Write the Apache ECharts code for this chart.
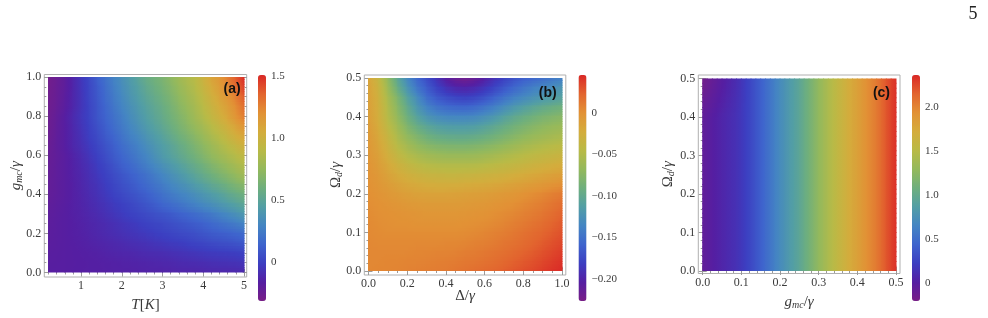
<!DOCTYPE html>
<html>
<head>
<meta charset="utf-8">
<title>heatmaps</title>
<script src="https://cdn.jsdelivr.net/npm/echarts@6.0.0/dist/echarts.min.js"></script>
<style>
  html, body { margin: 0; padding: 0; background: #fff; }
  #chart { width: 988px; height: 318px; }
</style>
</head>
<body>
<div id="chart"></div>
<script>
// ---------- data ----------

// panel (a): T[K] across, g_mc/gamma up
var aT = [0.2,0.4,0.6,0.8,1.0,1.2,1.4,1.6,1.8,2.0,2.2,2.4,2.6,2.8,3.0,3.2,3.4,3.6,3.8,4.0,4.2,4.4,4.6,4.8,5.0];
var aG = [0,0.05,0.1,0.15,0.2,0.25,0.3,0.35,0.4,0.45,0.5,0.55,0.6,0.65,0.7,0.75,0.8,0.85,0.9,0.95,1];
// rows from g = 1.0 (top) down to g = 0
var aRows = [
  [-0.29,-0.25,-0.2,-0.13,-0.05,0.03,0.12,0.2,0.28,0.35,0.42,0.49,0.56,0.61,0.65,0.72,0.79,0.85,0.9,1.0,1.1,1.17,1.27,1.38,1.5],
  [-0.285,-0.245,-0.2,-0.13,-0.055,0.02,0.1,0.18,0.26,0.33,0.4,0.46,0.53,0.58,0.63,0.69,0.76,0.82,0.88,0.97,1.06,1.14,1.23,1.33,1.46],
  [-0.28,-0.24,-0.19,-0.125,-0.06,0.02,0.09,0.17,0.24,0.31,0.38,0.44,0.5,0.55,0.6,0.66,0.73,0.79,0.85,0.93,1.02,1.1,1.18,1.27,1.38],
  [-0.275,-0.235,-0.185,-0.125,-0.06,0.01,0.08,0.15,0.22,0.29,0.35,0.41,0.47,0.52,0.57,0.63,0.7,0.76,0.82,0.9,0.98,1.06,1.13,1.22,1.32],
  [-0.27,-0.22,-0.17,-0.11,-0.05,0.01,0.08,0.14,0.2,0.26,0.33,0.39,0.45,0.5,0.55,0.61,0.67,0.73,0.8,0.87,0.95,1.02,1.1,1.19,1.28],
  [-0.265,-0.215,-0.17,-0.115,-0.06,0.0,0.06,0.12,0.18,0.24,0.3,0.36,0.42,0.47,0.52,0.58,0.64,0.7,0.76,0.82,0.89,0.96,1.03,1.11,1.19],
  [-0.26,-0.21,-0.17,-0.12,-0.07,-0.01,0.04,0.1,0.15,0.21,0.27,0.32,0.38,0.43,0.48,0.54,0.6,0.65,0.71,0.77,0.84,0.9,0.97,1.04,1.1],
  [-0.25,-0.205,-0.17,-0.12,-0.08,-0.03,0.02,0.07,0.12,0.18,0.23,0.28,0.34,0.39,0.44,0.49,0.55,0.6,0.66,0.72,0.78,0.84,0.9,0.96,1.02],
  [-0.24,-0.21,-0.18,-0.14,-0.1,-0.05,0.0,0.05,0.1,0.15,0.2,0.25,0.3,0.36,0.42,0.47,0.52,0.57,0.62,0.68,0.74,0.79,0.84,0.89,0.94],
  [-0.235,-0.205,-0.18,-0.145,-0.11,-0.07,-0.02,0.02,0.07,0.12,0.16,0.21,0.26,0.31,0.36,0.41,0.46,0.51,0.56,0.61,0.67,0.72,0.77,0.82,0.87],
  [-0.23,-0.205,-0.18,-0.15,-0.12,-0.08,-0.04,0.0,0.04,0.08,0.12,0.16,0.2,0.25,0.3,0.35,0.4,0.45,0.5,0.55,0.6,0.65,0.7,0.75,0.8],
  [-0.225,-0.2,-0.18,-0.155,-0.125,-0.09,-0.06,-0.02,0.02,0.055,0.09,0.13,0.17,0.21,0.25,0.3,0.34,0.38,0.43,0.47,0.52,0.56,0.61,0.66,0.7],
  [-0.22,-0.2,-0.18,-0.155,-0.13,-0.1,-0.07,-0.035,0.0,0.03,0.06,0.09,0.12,0.16,0.2,0.24,0.28,0.31,0.35,0.39,0.43,0.47,0.52,0.56,0.6],
  [-0.21,-0.19,-0.175,-0.155,-0.135,-0.11,-0.085,-0.06,-0.03,-0.005,0.02,0.05,0.08,0.11,0.15,0.18,0.21,0.25,0.28,0.32,0.35,0.39,0.43,0.47,0.51],
  [-0.2,-0.185,-0.17,-0.155,-0.14,-0.12,-0.1,-0.075,-0.05,-0.025,0.0,0.02,0.04,0.06,0.08,0.1,0.13,0.155,0.18,0.21,0.24,0.28,0.32,0.36,0.41],
  [-0.195,-0.18,-0.17,-0.16,-0.145,-0.13,-0.115,-0.1,-0.08,-0.06,-0.04,-0.02,0.0,0.015,0.03,0.05,0.07,0.09,0.11,0.13,0.16,0.19,0.22,0.25,0.29],
  [-0.19,-0.18,-0.17,-0.16,-0.15,-0.135,-0.12,-0.105,-0.09,-0.075,-0.06,-0.045,-0.03,-0.015,0.0,0.015,0.03,0.045,0.06,0.08,0.1,0.115,0.13,0.15,0.17],
  [-0.185,-0.178,-0.17,-0.163,-0.155,-0.145,-0.135,-0.125,-0.115,-0.105,-0.09,-0.08,-0.07,-0.055,-0.045,-0.03,-0.02,-0.005,0.01,0.02,0.035,0.05,0.06,0.075,0.09],
  [-0.18,-0.175,-0.17,-0.165,-0.16,-0.155,-0.15,-0.14,-0.13,-0.125,-0.12,-0.11,-0.1,-0.095,-0.09,-0.08,-0.07,-0.06,-0.05,-0.04,-0.03,-0.025,-0.02,-0.01,0.0],
  [-0.175,-0.172,-0.17,-0.167,-0.163,-0.16,-0.157,-0.153,-0.15,-0.145,-0.14,-0.135,-0.13,-0.125,-0.12,-0.115,-0.105,-0.1,-0.095,-0.09,-0.08,-0.075,-0.07,-0.065,-0.055],
  [-0.17,-0.17,-0.17,-0.165,-0.16,-0.16,-0.16,-0.155,-0.15,-0.15,-0.15,-0.145,-0.14,-0.14,-0.14,-0.135,-0.13,-0.13,-0.13,-0.125,-0.12,-0.12,-0.12,-0.115,-0.11]
];
var aXTicks = [1, 2, 3, 4, 5];
var aYTicks = [0, 0.2, 0.4, 0.6, 0.8, 1.0];
var aBarTicks = [0, 0.5, 1.0, 1.5];
var aBarLabels = ['0', '0.5', '1.0', '1.5'];

// panel (b): Delta/gamma across, Omega_d/gamma up
var bD = [0,0.05,0.1,0.15,0.2,0.25,0.3,0.35,0.4,0.45,0.5,0.55,0.6,0.65,0.7,0.75,0.8,0.85,0.9,0.95,1];
var bW = [0,0.025,0.05,0.075,0.1,0.125,0.15,0.175,0.2,0.225,0.25,0.275,0.3,0.325,0.35,0.375,0.4,0.425,0.45,0.475,0.5];
// rows from Omega = 0.5 (top) down to 0
var bRows = [
  [-0.015,-0.035,-0.068,-0.103,-0.132,-0.155,-0.172,-0.188,-0.205,-0.217,-0.222,-0.215,-0.203,-0.19,-0.18,-0.17,-0.162,-0.157,-0.152,-0.146,-0.14],
  [-0.013,-0.03,-0.062,-0.094,-0.122,-0.146,-0.163,-0.178,-0.19,-0.198,-0.2,-0.196,-0.188,-0.178,-0.167,-0.157,-0.148,-0.14,-0.134,-0.128,-0.122],
  [-0.012,-0.027,-0.055,-0.08,-0.108,-0.13,-0.152,-0.165,-0.173,-0.178,-0.18,-0.177,-0.17,-0.16,-0.15,-0.14,-0.133,-0.126,-0.12,-0.115,-0.11],
  [-0.011,-0.025,-0.05,-0.074,-0.098,-0.12,-0.137,-0.148,-0.154,-0.157,-0.158,-0.155,-0.148,-0.14,-0.13,-0.12,-0.112,-0.105,-0.099,-0.094,-0.09],
  [-0.01,-0.024,-0.047,-0.068,-0.09,-0.108,-0.122,-0.13,-0.134,-0.135,-0.135,-0.133,-0.127,-0.12,-0.11,-0.102,-0.095,-0.089,-0.083,-0.079,-0.075],
  [-0.008,-0.021,-0.041,-0.06,-0.079,-0.094,-0.104,-0.111,-0.114,-0.115,-0.115,-0.113,-0.108,-0.102,-0.095,-0.088,-0.082,-0.076,-0.071,-0.067,-0.064],
  [-0.006,-0.018,-0.035,-0.053,-0.069,-0.08,-0.09,-0.096,-0.099,-0.1,-0.1,-0.098,-0.094,-0.089,-0.083,-0.077,-0.071,-0.066,-0.062,-0.058,-0.055],
  [-0.005,-0.015,-0.03,-0.046,-0.058,-0.068,-0.075,-0.079,-0.081,-0.082,-0.082,-0.08,-0.077,-0.073,-0.068,-0.063,-0.058,-0.054,-0.05,-0.047,-0.044],
  [-0.004,-0.012,-0.025,-0.038,-0.048,-0.055,-0.06,-0.063,-0.065,-0.065,-0.065,-0.064,-0.061,-0.058,-0.054,-0.05,-0.046,-0.042,-0.039,-0.036,-0.033],
  [-0.002,-0.009,-0.019,-0.029,-0.037,-0.043,-0.047,-0.049,-0.05,-0.05,-0.05,-0.049,-0.047,-0.044,-0.041,-0.038,-0.035,-0.031,-0.028,-0.025,-0.022],
  [-0.001,-0.006,-0.014,-0.021,-0.027,-0.031,-0.034,-0.035,-0.036,-0.036,-0.035,-0.034,-0.032,-0.03,-0.028,-0.025,-0.022,-0.019,-0.016,-0.013,-0.01],
  [0.0,-0.004,-0.009,-0.014,-0.018,-0.021,-0.023,-0.024,-0.024,-0.024,-0.022,-0.021,-0.02,-0.018,-0.016,-0.013,-0.011,-0.008,-0.005,-0.002,0.001],
  [0.001,-0.002,-0.005,-0.008,-0.011,-0.013,-0.014,-0.014,-0.014,-0.013,-0.012,-0.011,-0.01,-0.008,-0.006,-0.004,-0.001,0.002,0.005,0.009,0.012],
  [0.002,0.0,-0.002,-0.004,-0.006,-0.007,-0.008,-0.008,-0.008,-0.008,-0.007,-0.006,-0.005,-0.003,-0.001,0.001,0.004,0.007,0.01,0.014,0.018],
  [0.003,0.001,0.0,-0.001,-0.002,-0.003,-0.004,-0.004,-0.004,-0.004,-0.003,-0.002,-0.001,0.001,0.003,0.005,0.008,0.011,0.014,0.018,0.023],
  [0.004,0.002,0.001,0.0,0.0,-0.001,-0.001,-0.001,-0.001,-0.001,0.0,0.001,0.002,0.004,0.006,0.009,0.012,0.015,0.018,0.022,0.027],
  [0.004,0.003,0.002,0.002,0.002,0.002,0.002,0.002,0.002,0.002,0.003,0.004,0.006,0.008,0.01,0.013,0.016,0.019,0.022,0.026,0.03],
  [0.005,0.004,0.004,0.004,0.004,0.004,0.004,0.004,0.005,0.005,0.006,0.008,0.009,0.011,0.014,0.016,0.019,0.022,0.026,0.03,0.034],
  [0.005,0.005,0.005,0.005,0.005,0.006,0.006,0.007,0.007,0.008,0.01,0.011,0.013,0.015,0.017,0.02,0.023,0.026,0.03,0.034,0.038],
  [0.005,0.005,0.006,0.006,0.007,0.007,0.008,0.009,0.01,0.011,0.013,0.014,0.016,0.018,0.021,0.024,0.027,0.03,0.034,0.038,0.042],
  [0.005,0.006,0.006,0.007,0.008,0.009,0.01,0.011,0.012,0.014,0.016,0.018,0.02,0.022,0.025,0.028,0.031,0.034,0.038,0.042,0.045]
];
var bXTicks = [0, 0.2, 0.4, 0.6, 0.8, 1.0];
var bYTicks = [0, 0.1, 0.2, 0.3, 0.4, 0.5];
var bBarTicks = [0, -0.05, -0.10, -0.15, -0.20];
var bBarLabels = ['0', '\u22120.05', '\u22120.10', '\u22120.15', '\u22120.20'];

// panel (c): g_mc/gamma across, Omega_d/gamma up -- colour changes mostly across
var cG = [0,0.0125,0.025,0.0375,0.05,0.0625,0.075,0.0875,0.1,0.1125,0.125,0.1375,0.15,0.1625,0.175,0.1875,0.2,0.2125,0.225,0.2375,
          0.25,0.2625,0.275,0.2875,0.3,0.3125,0.325,0.3375,0.35,0.3625,0.375,0.3875,0.4,0.4125,0.425,0.4375,0.45,0.4625,0.475,0.4875,0.5];
var cW = [0,0.05,0.1,0.15,0.2,0.25,0.3,0.35,0.4,0.45,0.5];
var cRowTop = [-0.17,-0.13,-0.09,-0.05,-0.01,0.03,0.07,0.11,0.16,0.22,0.28,0.345,0.41,0.48,0.55,0.625,0.7,0.765,0.83,0.89,
               0.95,1.03,1.11,1.195,1.28,1.355,1.43,1.5,1.57,1.635,1.7,1.76,1.82,1.88,1.94,1.995,2.05,2.125,2.2,2.27,2.34];
var cRowNear = [-0.11,-0.08,-0.045,-0.01,0.025,0.06,0.09,0.125,0.17,0.225,0.28,0.345,0.41,0.48,0.55,0.625,0.7,0.765,0.83,0.89,
                0.95,1.03,1.11,1.195,1.28,1.355,1.43,1.5,1.57,1.635,1.7,1.76,1.82,1.88,1.94,1.995,2.05,2.125,2.2,2.27,2.34];
var cRow = [-0.06,-0.03,0.0,0.03,0.06,0.085,0.11,0.14,0.18,0.23,0.28,0.345,0.41,0.48,0.55,0.625,0.7,0.765,0.83,0.89,
            0.95,1.03,1.11,1.195,1.28,1.355,1.43,1.5,1.57,1.635,1.7,1.76,1.82,1.88,1.94,1.995,2.05,2.125,2.2,2.27,2.34];
// rows from Omega = 0.5 (top) down to 0
var cRows = [cRowTop, cRowNear, cRow, cRow, cRow, cRow, cRow, cRow, cRow, cRow, cRow];
var cXTicks = [0, 0.1, 0.2, 0.3, 0.4, 0.5];
var cYTicks = [0, 0.1, 0.2, 0.3, 0.4, 0.5];
var cBarTicks = [0, 0.5, 1.0, 1.5, 2.0];
var cBarLabels = ['0', '0.5', '1.0', '1.5', '2.0'];

// ---------- styling ----------
var serif = '"Liberation Serif", "DejaVu Serif", serif';
var ink = '#3a3a3a';
var rainbow = ['#781e87','#551ea2','#3c3ec1','#3e64cd','#4485c3','#529ea5','#6eaf7d',
               '#94b95c','#b9ba46','#d4ac3c','#e29135','#e2642e','#da2826'];

function steps(a, b, d) {
  var out = [];
  for (var v = a; v <= b + 1e-9; v += d) out.push(+v.toFixed(4));
  return out;
}
function fix1(v) { return v.toFixed(1); }
function cellsFromRows(rows) {
  var out = [], n = rows.length;
  rows.forEach(function (row, r) {
    row.forEach(function (v, i) { out.push([i, n - 1 - r, v]); });
  });
  return out;
}
function pick(ticks, labels) {
  return function (v) {
    for (var i = 0; i < ticks.length; i++) if (Math.abs(ticks[i] - v) < 1e-9) return labels[i];
    return '';
  };
}

// Each sample is a corner of a patch; the patch is shaded like a density plot,
// colours coming from the same rainbow the colour bar uses.
function shadedPatches(rows, cr) {
  var vals = rows.slice().reverse();   // vals[j][i], j counted from the bottom
  function colorOf(v) {
    var t = (v - cr[0]) / (cr[1] - cr[0]);
    return echarts.color.lerp(Math.max(0, Math.min(1, t)), rainbow);
  }
  return function (params, api) {
    var i = api.value(0), j = api.value(1);
    if (i >= vals[0].length - 1 || j >= vals.length - 1) return null;
    var a = api.coord([i, j]), b = api.coord([i + 1, j + 1]);
    var v00 = vals[j][i], v10 = vals[j][i + 1], v01 = vals[j + 1][i], v11 = vals[j + 1][i + 1];
    var kids = [], n = 4;
    for (var s = 0; s < n; s++) {
      var t = (s + 0.5) / n;
      var vl = v00 + (v01 - v00) * t, vr = v10 + (v11 - v10) * t;
      var stops = [];
      for (var f = 0; f <= 4; f++) stops.push({ offset: f / 4, color: colorOf(vl + (vr - vl) * f / 4) });
      var y0 = a[1] + (b[1] - a[1]) * s / n, y1 = a[1] + (b[1] - a[1]) * (s + 1) / n;
      kids.push({
        type: 'rect',
        shape: { x: a[0] - 0.5, y: Math.min(y0, y1) - 0.5, width: b[0] - a[0] + 1, height: Math.abs(y1 - y0) + 1 },
        style: { fill: new echarts.graphic.LinearGradient(0, 0, 1, 0, stops) }
      });
    }
    return { type: 'group', children: kids };
  };
}

var nameStyle = {
  fontFamily: serif, fontSize: 15, color: ink,
  rich: {
    i: { fontFamily: serif, fontStyle: 'italic', fontSize: 15, color: ink },
    n: { fontFamily: serif, fontSize: 15, color: ink },
    s: { fontFamily: serif, fontStyle: 'italic', fontSize: 10, color: ink, padding: [7, 0, 0, 0] }
  }
};

var panels = [
  { tag: '(a)', xCats: aT, yCats: aG, rows: aRows, xr: [0.2, 5], yr: [0, 1], cr: [-0.315, 1.508],
    plot: [48.5, 77, 195.5, 195.5], frame: [44.3, 74.5, 202.4, 202.5], bar: [258, 75, 8, 226],
    xMajor: aXTicks, xMinor: steps(0.2, 5, 0.2), yMajor: aYTicks, yMinor: steps(0, 1, 0.05),
    xFmt: function (v) { return String(Math.round(v)); }, yFmt: fix1,
    barTicks: aBarTicks, barLabels: aBarLabels,
    xName: '{i|T}{n|[}{i|K}{n|]}', yName: '{i|g}{s|mc}{n|/}{i|γ}', xGap: 21, yGap: 20,
    tagPos: [240.7, 89.3] },
  { tag: '(b)', xCats: bD, yCats: bW, rows: bRows, xr: [0, 1], yr: [0, 0.5], cr: [-0.2265, 0.0458],
    plot: [368.5, 78, 193.5, 193], frame: [364.3, 75, 201.5, 200], bar: [578.5, 75, 8, 226],
    xMajor: bXTicks, xMinor: steps(0, 1, 0.05), yMajor: bYTicks, yMinor: steps(0, 0.5, 0.02),
    xFmt: fix1, yFmt: fix1,
    barTicks: bBarTicks, barLabels: bBarLabels,
    xName: '{n|Δ/}{i|γ}', yName: '{n|Ω}{s|d}{n|/}{i|γ}', xGap: 14, yGap: 20,
    tagPos: [556.7, 92.8] },
  { tag: '(c)', xCats: cG, yCats: cW, rows: cRows, xr: [0, 0.5], yr: [0, 0.5], cr: [-0.2045, 2.364],
    plot: [702.7, 78.5, 193.3, 192.5], frame: [698.3, 75, 201.7, 198.5], bar: [912, 75, 8, 226],
    xMajor: cXTicks, xMinor: steps(0, 0.5, 0.02), yMajor: cYTicks, yMinor: steps(0, 0.5, 0.02),
    xFmt: fix1, yFmt: fix1,
    barTicks: cBarTicks, barLabels: cBarLabels,
    xName: '{i|g}{s|mc}{n|/}{i|γ}', yName: '{n|Ω}{s|d}{n|/}{i|γ}', xGap: 20, yGap: 22,
    tagPos: [890, 93] }
];

function frameAxis(gridIndex, min, max, pos, ticks, len, fmt, name, gap) {
  return {
    gridIndex: gridIndex, type: 'value', min: min, max: max, position: pos,
    axisLine: { show: false }, splitLine: { show: false },
    axisTick: { show: true, inside: true, length: len, lineStyle: { color: '#9a9a9a', width: 1 }, customValues: ticks },
    axisLabel: fmt ? { show: true, customValues: ticks, formatter: fmt, margin: 3,
                       fontFamily: serif, fontSize: 12, color: ink } : { show: false },
    name: name || '', nameLocation: 'middle', nameGap: gap || 0, nameMoveOverlap: false,
    nameTextStyle: nameStyle
  };
}

var option = {
  backgroundColor: '#fff', animation: false,
  grid: [], xAxis: [], yAxis: [], series: [], visualMap: [],
  graphic: [{ type: 'text', x: 973, y: 14, z: 100,
              style: { text: '5', font: '18px ' + serif, fill: '#222', align: 'center', verticalAlign: 'middle' } }]
};

panels.forEach(function (p, k) {
  var g = option.grid.length;
  option.grid.push({ left: p.plot[0], top: p.plot[1], width: p.plot[2], height: p.plot[3], outerBoundsMode: 'none' });
  option.grid.push({ left: p.frame[0], top: p.frame[1], width: p.frame[2], height: p.frame[3], outerBoundsMode: 'none',
                     show: true, borderColor: '#b0b0b0', borderWidth: 1, backgroundColor: 'transparent' });
  option.grid.push({ left: p.bar[0], top: p.bar[1], width: p.bar[2], height: p.bar[3], outerBoundsMode: 'none' });

  var xi = option.xAxis.length, yi = option.yAxis.length;
  option.xAxis.push({ gridIndex: g, type: 'category', boundaryGap: false, data: p.xCats.map(String), show: false });
  option.yAxis.push({ gridIndex: g, type: 'category', boundaryGap: false, data: p.yCats.map(String), show: false });
  option.series.push({
    type: 'custom', xAxisIndex: xi, yAxisIndex: yi, data: cellsFromRows(p.rows),
    encode: { x: 0, y: 1 }, renderItem: shadedPatches(p.rows, p.cr), clip: true, silent: true
  });
  option.visualMap.push({
    type: 'continuous', seriesIndex: k, dimension: 2, min: p.cr[0], max: p.cr[1], calculable: false, hoverLink: false,
    orient: 'vertical', left: p.bar[0], top: p.bar[1], itemWidth: p.bar[2], itemHeight: p.bar[3],
    padding: 0, inRange: { color: rainbow }
  });

  // frame with Mathematica-style ticks on all four sides
  var sx = (p.xr[1] - p.xr[0]) / p.plot[2];
  var sy = (p.yr[1] - p.yr[0]) / p.plot[3];
  var xMin = p.xr[0] - (p.plot[0] - p.frame[0]) * sx;
  var xMax = p.xr[1] + (p.frame[0] + p.frame[2] - p.plot[0] - p.plot[2]) * sx;
  var yMin = p.yr[0] - (p.frame[1] + p.frame[3] - p.plot[1] - p.plot[3]) * sy;
  var yMax = p.yr[1] + (p.plot[1] - p.frame[1]) * sy;
  option.xAxis.push(frameAxis(g + 1, xMin, xMax, 'bottom', p.xMajor, 4, p.xFmt, p.xName, p.xGap));
  option.xAxis.push(frameAxis(g + 1, xMin, xMax, 'bottom', p.xMinor, 2));
  option.xAxis.push(frameAxis(g + 1, xMin, xMax, 'top', p.xMajor, 4));
  option.xAxis.push(frameAxis(g + 1, xMin, xMax, 'top', p.xMinor, 2));
  option.yAxis.push(frameAxis(g + 1, yMin, yMax, 'left', p.yMajor, 4, p.yFmt, p.yName, p.yGap));
  option.yAxis.push(frameAxis(g + 1, yMin, yMax, 'left', p.yMinor, 2));
  option.yAxis.push(frameAxis(g + 1, yMin, yMax, 'right', p.yMajor, 4));
  option.yAxis.push(frameAxis(g + 1, yMin, yMax, 'right', p.yMinor, 2));

  // colour bar labels
  option.xAxis.push({ gridIndex: g + 2, type: 'value', show: false });
  option.yAxis.push({
    gridIndex: g + 2, type: 'value', min: p.cr[0], max: p.cr[1], position: 'right',
    axisLine: { show: false }, axisTick: { show: false }, splitLine: { show: false },
    axisLabel: { customValues: p.barTicks, formatter: pick(p.barTicks, p.barLabels), margin: 5,
                 fontFamily: serif, fontSize: 11, color: ink }
  });

  option.graphic.push({ type: 'text', x: p.tagPos[0], y: p.tagPos[1], z: 100,
    style: { text: p.tag, font: 'bold 14px "Liberation Sans", Arial, sans-serif', fill: '#111',
             align: 'right', verticalAlign: 'middle' } });
});

var chart = echarts.init(document.getElementById('chart'), null, { renderer: 'canvas' });
chart.setOption(option);
</script>
</body>
</html>
